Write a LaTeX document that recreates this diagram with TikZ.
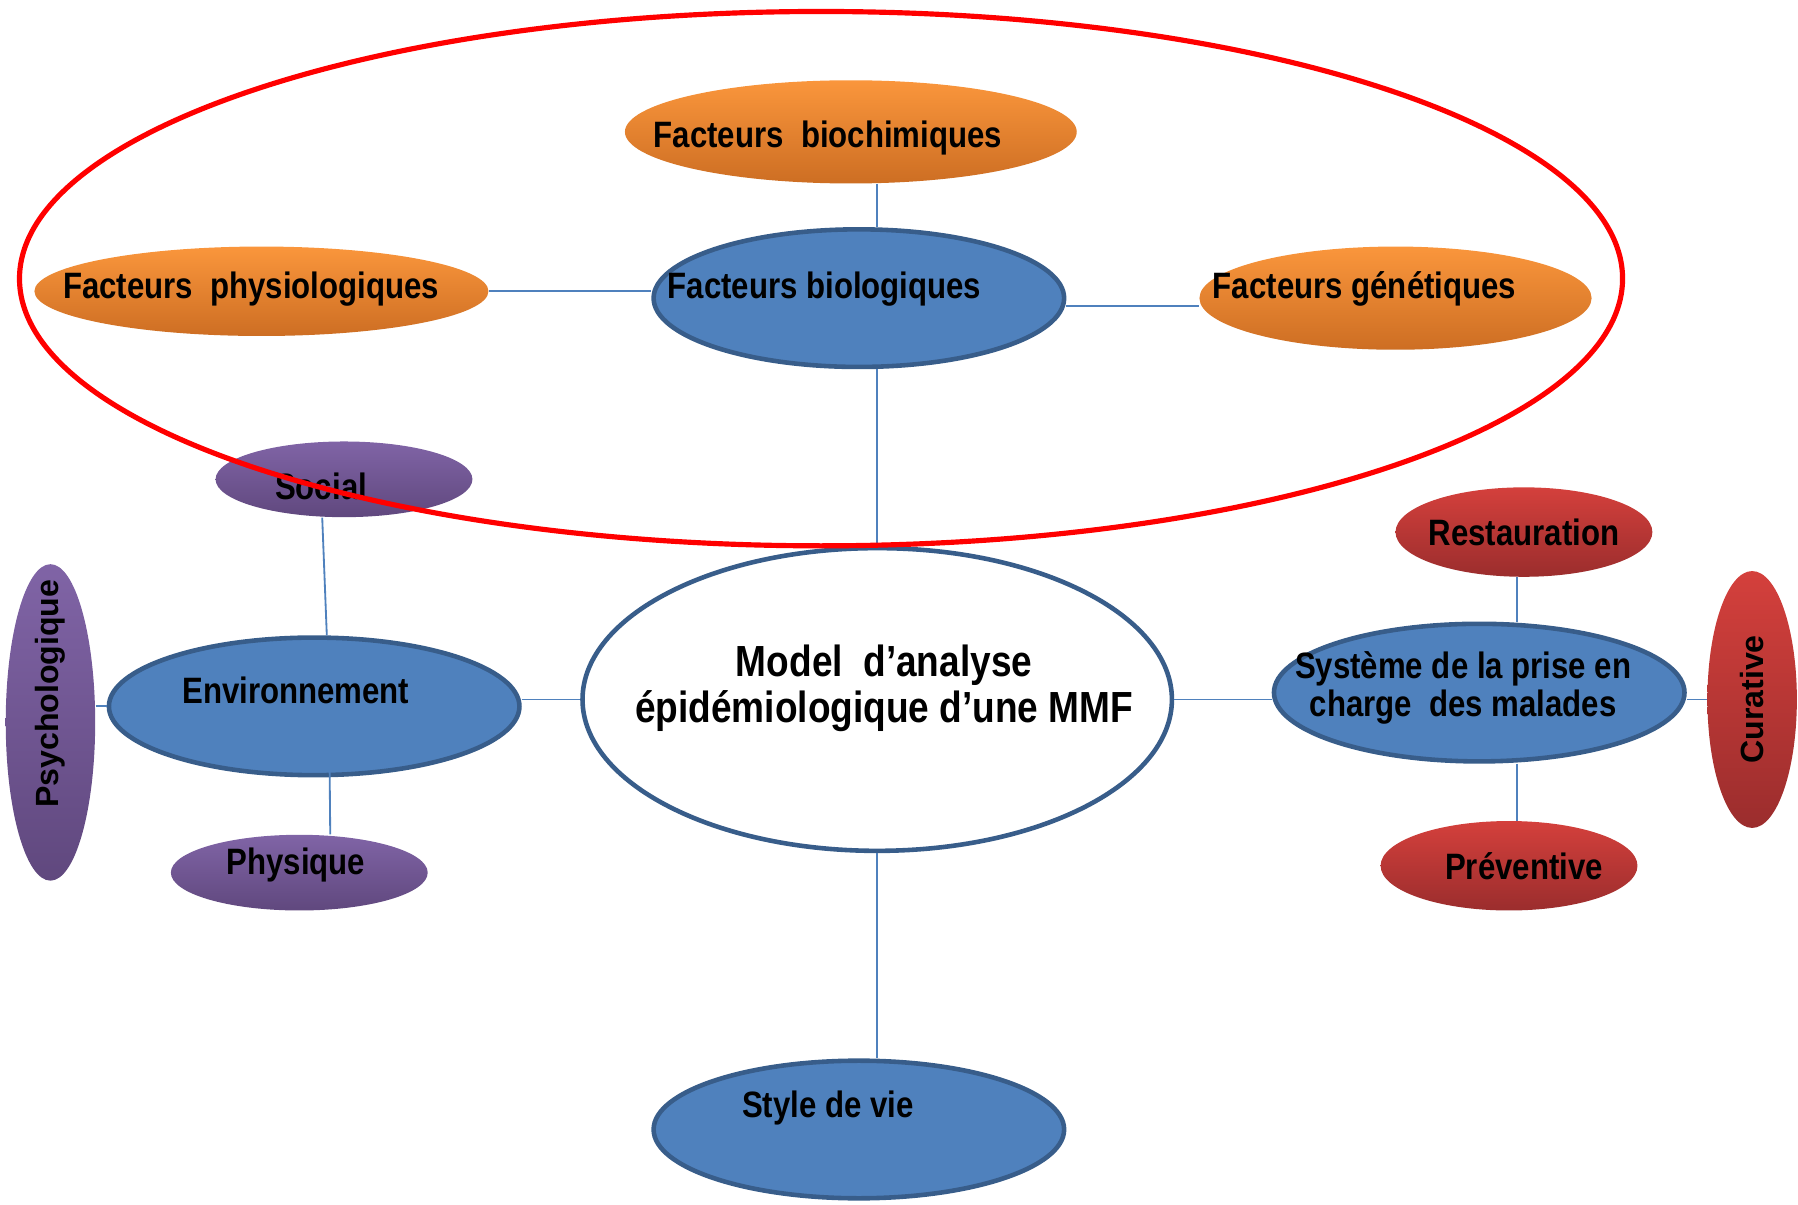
\documentclass[tikz,border=0pt]{standalone}
\usepackage{fontspec}
\setmainfont{Liberation Sans}
\newfontfamily\condfont{Liberation Sans}[FakeStretch=0.85]
\usepackage{tikz}
\usetikzlibrary{positioning,shapes.geometric}

\definecolor{orangetop}{RGB}{250,150,60}
\definecolor{orangebot}{RGB}{205,110,35}
\definecolor{bluefill}{RGB}{79,129,189}
\definecolor{blueline}{RGB}{56,93,138}
\definecolor{purpletop}{RGB}{128,100,166}
\definecolor{purplebot}{RGB}{96,72,126}
\definecolor{redtop}{RGB}{212,64,60}
\definecolor{redbot}{RGB}{155,45,45}
\definecolor{ringred}{RGB}{255,0,0}

\tikzset{
	blob/.style={ellipse,inner sep=0pt},
	orangeblob/.style={blob,top color=orangetop,bottom color=orangebot},
	blueblob/.style={blob,fill=bluefill,draw=blueline,line width=2pt},
	purpleblob/.style={blob,top color=purpletop,bottom color=purplebot},
	redblob/.style={blob,top color=redtop,bottom color=redbot},
	txt/.style={font=\condfont\bfseries\fontsize{16}{16.5}\selectfont,align=center,inner sep=0pt},
	widetxt/.style={font=\bfseries\fontsize{14}{14}\selectfont,inner sep=0pt},
	link/.style={draw=bluefill,line width=0.8pt},
}

\begin{document}
\begin{tikzpicture}[x=0.5pt,y=-0.5pt]
		\useasboundingbox (0,0) rectangle (1568,1050);
		% centre
		\node[blob,fill=white,draw=blueline,line width=2pt,minimum width=257pt,minimum height=132pt,label={[txt,font=\condfont\bfseries\fontsize{19}{20}\selectfont,xshift=3pt,yshift=5pt]center:Model\ \ d’analyse\\épidémiologique d’une MMF}] (mdl) at (765,610) {};
		% facteurs biologiques
		\node[blueblob,minimum width=179pt,minimum height=60pt,label={[txt,xshift=-15pt,yshift=4pt]center:Facteurs biologiques}] (biol) at (749,260) {};
		\node[orangeblob,minimum width=197pt,minimum height=45pt,label={[txt,xshift=-10pt,yshift=-2.5pt]center:Facteurs\ \ biochimiques}] (bioc) at (742,115) {};
		\node[orangeblob,minimum width=198pt,minimum height=39pt,label={[txt,xshift=-4.5pt,yshift=1pt]center:Facteurs\ \ physiologiques}] (physio) at (228,254) {};
		\node[orangeblob,minimum width=171pt,minimum height=45pt,label={[txt,xshift=-13.5pt,yshift=4pt]center:Facteurs génétiques}] (genet) at (1217,260) {};
		% environnement
		\node[blueblob,minimum width=179pt,minimum height=60pt,label={[txt,xshift=-8pt,yshift=7pt]center:Environnement}] (env) at (274,616) {};
		\node[purpleblob,minimum width=112pt,minimum height=33pt,label={[txt,xshift=-10pt,yshift=-3pt]center:Social}] (soc) at (300,418) {};
		\node[purpleblob,minimum width=112pt,minimum height=33pt,label={[txt,xshift=-1.5pt,yshift=3.5pt]center:Physique}] (phys) at (261,761) {};
		\node[purpleblob,minimum width=39pt,minimum height=138pt,label={[widetxt,yshift=12.5pt,rotate=90]center:Psychologique}] (psy) at (44,630) {};
		% style de vie
		\node[blueblob,minimum width=179pt,minimum height=60pt,label={[txt,xshift=-13.5pt,yshift=9.5pt]center:Style de vie}] (vie) at (749,985) {};
		% prise en charge
		\node[blueblob,minimum width=179pt,minimum height=60pt,label={[txt,xshift=-7pt,yshift=2pt]center:Système de la prise en\\charge\ \ des malades}] (sys) at (1290,604) {};
		\node[redblob,minimum width=112pt,minimum height=39pt,label={[txt]center:Restauration}] (rest) at (1329,464) {};
		\node[redblob,minimum width=112pt,minimum height=39pt,label={[txt,xshift=6.5pt]center:Préventive}] (prev) at (1316,755) {};
		\node[redblob,minimum width=39pt,minimum height=112pt,label={[widetxt,rotate=90]center:Curative}] (cur) at (1528,610) {};
		
		\draw[link] (bioc.south -| mdl) -- (biol.north -| mdl);
		\draw[link] (biol.south -| mdl) -- (mdl.north);
		\draw[link] (mdl.south) -- (vie.north -| mdl);
		\draw[link] (physio.east) -- (physio.east -| biol.west);
		\draw[link] ([yshift=-3.5pt]biol.east) -- ([yshift=-3.5pt]genet.west);
		\draw[link] ([xshift=-9.5pt]soc.south) -- ([xshift=5.5pt]env.north);
		\draw[link] ([xshift=6.5pt,yshift=-3.5pt]env.center) -- ([xshift=13.5pt]phys.north);
		\draw[link] (psy.east |- env.west) -- (env.west);
		\draw[link] (mdl.west -| env.east) -- (mdl.west);
		\draw[link] (mdl.east) -- (mdl.east -| sys.west);
		\draw[link] (cur.west -| sys.east) -- (cur.west);
		\draw[link] ([xshift=-3pt]rest.south) -- ([xshift=-3pt]rest.south |- sys.north);
		\draw[link] ([xshift=-3pt]sys.south -| rest) -- ([xshift=-3pt]prev.north -| rest);
		
		\draw[ringred,line width=2.25pt] (716,243) ellipse [x radius=699,y radius=233];
	\end{tikzpicture}
\end{document}
